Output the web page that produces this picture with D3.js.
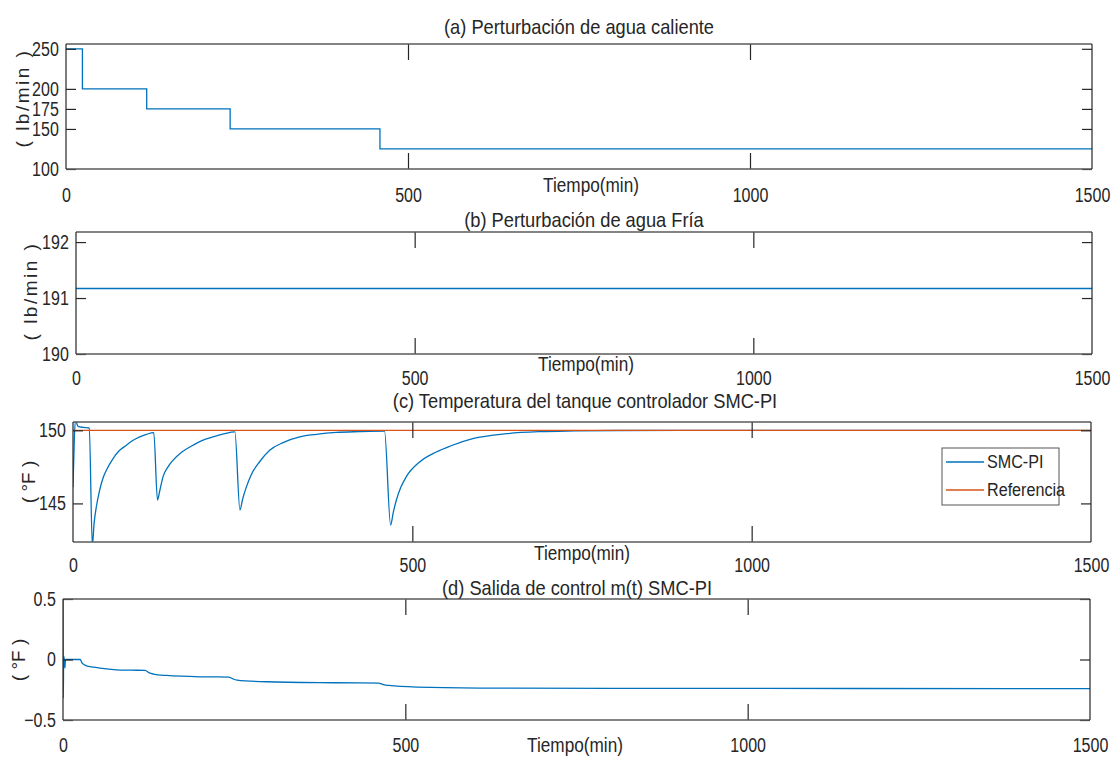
<!DOCTYPE html>
<html>
<head>
<meta charset="utf-8">
<script src="https://cdn.jsdelivr.net/npm/d3@7"></script>
<style>
  html, body { margin: 0; padding: 0; background: #fff; }
  svg text { font-family: "Liberation Sans", Arial, sans-serif; fill: #262626; }
</style>
</head>
<body>
<svg id="fig" width="1116" height="758"></svg>
<script>
// Time ticks shared by all four panels
const timeTicks = [0, 500, 1000, 1500];

// (a) hot water flow disturbance, stepwise
const hotTime = [0, 24, 118, 240, 459, 1500];
const hotFlow = [250, 200, 175, 150, 125, 125];
const hotTicks = [100, 150, 175, 200, 250];

// (b) cold water flow, constant
const coldTime = [0, 1500];
const coldFlow = [191.17, 191.17];
const coldTicks = [190, 191, 192];

// (c) tank temperature with SMC-PI controller and reference
const tempTime = [0, 2, 4, 6, 8, 15, 24, 28.5, 31, 34.4, 39.3, 44, 49.2, 59, 68, 78.7, 88, 98.3, 108, 119,
  124.5, 128, 132.6, 140, 147.3, 160, 176.8, 190, 206.3, 222, 238.5,
  246, 250, 255.5, 262, 275, 289.8, 309.4, 334, 358.6, 388, 422, 459,
  468, 472, 476.5, 483, 491, 510.8, 535.4, 555, 589, 638.6, 687.6, 740, 800, 900, 1500];
const tempSMC = [146.1, 149.5, 150.7, 150.4, 150.25, 150.2, 150.16, 142.1, 143.6, 144.77, 145.91, 146.7, 147.27, 148.07, 148.6, 148.98, 149.3, 149.55, 149.72, 149.84,
  145.23, 145.9, 146.82, 147.5, 147.95, 148.5, 148.98, 149.3, 149.55, 149.75, 149.89,
  144.55, 145.3, 146.13, 146.9, 147.85, 148.64, 149.16, 149.55, 149.73, 149.86, 149.91, 149.94,
  143.52, 144.4, 145.23, 146.1, 146.82, 147.84, 148.52, 148.91, 149.43, 149.77, 149.91, 149.96, 149.99, 150.0, 150.0];
const refTime = [0, 1500];
const refTemp = [150, 150];
const tempTicks = [145, 150];

// (d) control output m(t)
const ctrlTime = [0, 0.4, 1, 2, 2.8, 3.6, 10, 25, 28, 34, 45, 54, 78, 100, 120, 126, 132, 151, 200, 242,
  248, 254, 297, 395, 461, 468, 476, 517, 609, 800, 1500];
const ctrlOut = [0.6, -0.32, 0.03, -0.01, -0.07, 0.0, 0.0, 0.0, -0.03, -0.052, -0.063, -0.071, -0.085, -0.088, -0.09, -0.11, -0.12, -0.132, -0.143, -0.145,
  -0.16, -0.17, -0.184, -0.192, -0.195, -0.207, -0.214, -0.228, -0.236, -0.239, -0.24];
const ctrlTicks = [-0.5, 0, 0.5];

const BLUE = "#0072BD", ORANGE = "#D95319";
const TICK_SX = 0.8;   // horizontal squeeze for a condensed look
const svg = d3.select("#fig");

// condensed text placed at (x, y)
function narrowText(parent, x, y, str, size, sx, anchor) {
  return parent.append("text")
    .attr("transform", `translate(${x},${y}) scale(${sx},1)`)
    .attr("text-anchor", anchor || "middle")
    .attr("dominant-baseline", "central")
    .attr("font-size", size).text(str);
}

function panel(cfg) {
  const x = d3.scaleLinear().domain([0, 1500]).range([cfg.left, cfg.right]);
  const y = d3.scaleLinear().domain(cfg.yDomain).range([cfg.bottom, cfg.top]);
  const g = svg.append("g");

  const clipId = "clip-" + cfg.id;
  g.append("clipPath").attr("id", clipId).append("rect")
    .attr("x", cfg.left).attr("y", cfg.top)
    .attr("width", cfg.right - cfg.left).attr("height", cfg.bottom - cfg.top);

  // series
  const plot = g.append("g").attr("clip-path", `url(#${clipId})`);
  cfg.series.forEach(s => {
    const pts = s.t.map((t, i) => [t, s.v[i]]);
    const line = d3.line().x(d => x(d[0])).y(d => y(d[1])).curve(s.curve || d3.curveLinear);
    plot.append("path").attr("d", line(pts)).attr("fill", "none")
      .attr("stroke", s.color).attr("stroke-width", 1.3);
  });

  // axes, ticks pointing inward
  const bottomAx = g.append("g").attr("transform", `translate(0,${cfg.bottom})`)
    .call(d3.axisBottom(x).tickValues(timeTicks).tickFormat(d3.format("d"))
      .tickSizeInner(-16).tickSizeOuter(0).tickPadding(cfg.xPad));
  const topAx = g.append("g").attr("transform", `translate(0,${cfg.top})`)
    .call(d3.axisTop(x).tickValues(timeTicks).tickFormat("")
      .tickSizeInner(-16).tickSizeOuter(0));
  const leftAx = g.append("g").attr("transform", `translate(${cfg.left},0)`)
    .call(d3.axisLeft(y).tickValues(cfg.yTicks).tickFormat(cfg.yFormat || d3.format("d"))
      .tickSizeInner(-10).tickSizeOuter(0).tickPadding(9));
  const rightAx = g.append("g").attr("transform", `translate(${cfg.right},0)`)
    .call(d3.axisRight(y).tickValues(cfg.yTicks).tickFormat("")
      .tickSizeInner(-10).tickSizeOuter(0));
  [bottomAx, topAx, leftAx, rightAx].forEach(a => {
    a.select(".domain").remove();
    a.selectAll(".tick line").attr("stroke", "#262626").attr("stroke-width", 1.2);
    a.selectAll("text").attr("font-size", 20).attr("fill", "#262626")
      .attr("transform", `scale(${TICK_SX},1)`)
      .style("font-family", '"Liberation Sans", Arial, sans-serif');
  });
  // hide tick marks sitting on the frame corners
  [bottomAx, topAx].forEach(a => a.selectAll(".tick line")
    .attr("opacity", d => (d === 0 || d === 1500) ? 0 : 1));

  // frame
  const edge = (x1, y1, x2, y2, c, w) => g.append("line")
    .attr("x1", x1).attr("y1", y1).attr("x2", x2).attr("y2", y2)
    .attr("stroke", c).attr("stroke-width", w);
  edge(cfg.left, cfg.top, cfg.right, cfg.top, "#5a5a5a", 1.4);
  edge(cfg.left, cfg.bottom, cfg.right, cfg.bottom, "#5a5a5a", 1.4);
  edge(cfg.left, cfg.top, cfg.left, cfg.bottom, "#262626", 1.2);
  edge(cfg.right, cfg.top, cfg.right, cfg.bottom, "#262626", 1.2);

  // title and x label
  narrowText(g, cfg.titleX, cfg.titleY, cfg.title, 21, 0.87);
  narrowText(g, cfg.xLabX, cfg.xLabY, "Tiempo(min)", 20, 0.86);
  // y label
  g.append("text")
    .attr("transform", `translate(${cfg.yLabX},${cfg.yLabY}) rotate(-90)`)
    .attr("text-anchor", "middle").attr("dominant-baseline", "central")
    .attr("font-size", 19).attr("letter-spacing", cfg.yLabSpacing || 0)
    .text(cfg.yLabel);

  return { g, x, y };
}

panel({
  id: "a", left: 66, right: 1092, top: 44, bottom: 169, yDomain: [100, 256],
  yTicks: hotTicks, xPad: 19,
  series: [{ t: hotTime, v: hotFlow, color: BLUE, curve: d3.curveStepAfter }],
  title: "(a) Perturbación de agua caliente", titleX: 579, titleY: 27,
  xLabX: 591, xLabY: 185, yLabel: "( lb/min )", yLabSpacing: 2.5, yLabX: 22, yLabY: 98
});

panel({
  id: "b", left: 76, right: 1092, top: 232, bottom: 354, yDomain: [190, 192.18],
  yTicks: coldTicks, xPad: 17,
  series: [{ t: coldTime, v: coldFlow, color: BLUE }],
  title: "(b) Perturbación de agua Fría", titleX: 584, titleY: 220,
  xLabX: 586, xLabY: 364, yLabel: "( lb/min )", yLabSpacing: 2.5, yLabX: 30, yLabY: 291
});

panel({
  id: "c", left: 73, right: 1091, top: 422, bottom: 542, yDomain: [142.36, 150.57],
  yTicks: tempTicks, xPad: 16,
  series: [
    { t: tempTime, v: tempSMC, color: BLUE, curve: d3.curveMonotoneX },
    { t: refTime, v: refTemp, color: ORANGE }
  ],
  title: "(c) Temperatura del tanque controlador SMC-PI", titleX: 585, titleY: 401,
  xLabX: 582, xLabY: 553, yLabel: "( °F )", yLabX: 28, yLabY: 482
});

panel({
  id: "d", left: 63, right: 1090, top: 599, bottom: 720, yDomain: [-0.5, 0.5],
  yTicks: ctrlTicks, yFormat: d => d === 0 ? "0" : d3.format(".1f")(d), xPad: 18,
  series: [{ t: ctrlTime, v: ctrlOut, color: BLUE, curve: d3.curveMonotoneX }],
  title: "(d) Salida de control m(t) SMC-PI", titleX: 577, titleY: 588,
  xLabX: 575, xLabY: 745, yLabel: "( °F )", yLabX: 18, yLabY: 660
});

// legend for panel (c)
const legendItems = [
  { name: "SMC-PI", color: BLUE },
  { name: "Referencia", color: ORANGE }
];
const lg = svg.append("g").attr("transform", "translate(942,448)");
lg.append("rect").attr("width", 117).attr("height", 57)
  .attr("fill", "#fff").attr("stroke", "#555").attr("stroke-width", 1);
legendItems.forEach((it, i) => {
  const yy = 14 + i * 28;
  lg.append("line").attr("x1", 4).attr("x2", 42).attr("y1", yy).attr("y2", yy)
    .attr("stroke", it.color).attr("stroke-width", 1.3);
  narrowText(lg, 45, yy, it.name, 19, 0.85, "start");
});
</script>
</body>
</html>
